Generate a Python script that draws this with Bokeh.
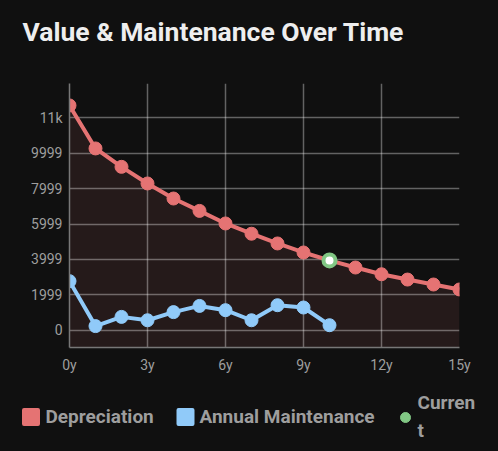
from bokeh.plotting import figure
from bokeh.layouts import column
from bokeh.models import Range1d, FixedTicker, Title
from bokeh.core.properties import value
from bokeh.embed import file_html
from bokeh.resources import INLINE

years = list(range(16))
depreciation = [12700, 10270, 9230, 8290, 7440, 6740, 6030, 5450, 4900, 4390,
                3940, 3540, 3160, 2860, 2580, 2300]
maint_years = list(range(11))
maintenance = [2770, 230, 750, 560, 1020, 1370, 1130, 560, 1410, 1280, 280]
current_year = [10]
current_value = [3940]

y_ticks = [0, 1999, 3999, 5999, 7999, 9999, 11999]
y_labels = ["0", "1999", "3999", "5999", "7999", "9999", "11k"]
x_ticks = [0, 3, 6, 9, 12, 15]
x_labels = ["0y", "3y", "6y", "9y", "12y", "15y"]
series_names = ["Depreciation", "Annual Maintenance", "Curren\nt"]

BG = "#101010"
RED = "#e57373"
BLUE = "#90caf9"
GREEN = "#81c784"
TXT = "#9e9e9e"
Y0, Y1 = -980, 13940
W = 498

# ---- main chart ----
p = figure(width=W, height=380, output_backend="svg", toolbar_location=None,
           x_range=Range1d(0, 15), y_range=Range1d(Y0, Y1),
           background_fill_color=BG, border_fill_color=BG,
           min_border_left=69, min_border_right=39, min_border_top=83,
           min_border_bottom=33)
p.outline_line_color = None
p.title = Title(text="Value & Maintenance Over Time", text_color="#eeeeee",
                text_font="Roboto", text_font_size="26.5px", text_font_style="bold",
                offset=-47, standoff=10)
# invisible spacer between title and plot area
p.add_layout(Title(text=" ", text_font_size="10px", standoff=19,
                   text_color=BG), "above")

p.varea(x=years, y1=[Y0] * len(years), y2=depreciation,
        fill_color=RED, fill_alpha=0.1, level="image")
p.line(years, depreciation, line_color=RED, line_width=4)
p.scatter(years, depreciation, size=13, fill_color=RED, line_color=RED)
p.line(maint_years, maintenance, line_color=BLUE, line_width=4)
p.scatter(maint_years, maintenance, size=13, fill_color=BLUE, line_color=BLUE)
p.scatter(current_year, current_value, size=12, fill_color="white",
          line_color=GREEN, line_width=4)

for g in (p.xgrid, p.ygrid):
    g.grid_line_color = "white"
    g.grid_line_alpha = 0.35
    g.grid_line_width = 1.5
p.xgrid.ticker = FixedTicker(ticks=x_ticks)
p.ygrid.ticker = FixedTicker(ticks=y_ticks)

p.xaxis.ticker = FixedTicker(ticks=x_ticks)
p.xaxis.major_label_overrides = dict(zip(x_ticks, x_labels))
p.yaxis.ticker = FixedTicker(ticks=y_ticks)
p.yaxis.major_label_overrides = dict(zip(y_ticks, y_labels))
for ax in (p.xaxis, p.yaxis):
    ax.axis_line_color = "#777777"
    ax.axis_line_width = 1.5
    ax.major_tick_line_color = None
    ax.minor_tick_line_color = None
    ax.major_tick_out = 0
    ax.major_tick_in = 0
    ax.major_label_text_color = TXT
    ax.major_label_text_font = "Roboto"
    ax.major_label_text_font_size = "14px"
p.xaxis.major_label_standoff = 9
p.yaxis.major_label_standoff = 7

# ---- legend strip ----
lg = figure(width=W, height=71, output_backend="svg", toolbar_location=None,
            x_range=Range1d(0, W), y_range=Range1d(71, 0),
            x_axis_location=None, y_axis_location=None,
            background_fill_color=BG, border_fill_color=BG,
            min_border_left=0, min_border_right=0, min_border_top=0,
            min_border_bottom=0)
lg.outline_line_color = None
lg.xgrid.visible = False
lg.ygrid.visible = False
lg.scatter(x=[30.5, 185], y=[36.5, 36.5], marker="square", size=14,
           fill_color=[RED, BLUE], line_color=[RED, BLUE], line_width=4,
           line_join="round")
lg.scatter(x=[405], y=[37], marker="circle", size=10,
           fill_color=GREEN, line_color=GREEN)
lg.text(x=[45, 199, 417], y=[36, 36, 36], text=series_names,
        text_color=TXT, text_font=value("Roboto"), text_font_size="19px",
        text_font_style="bold", text_baseline="middle", text_align="left",
        text_line_height=1.25)

html = file_html(column(p, column(lg), spacing=0), INLINE)
style = ("<style>html,body{margin:0 !important;padding:0 !important;"
         "background:#101010 !important;}</style>")
html = html.replace("</head>", style + "</head>", 1)
open("out.html", "w").write(html)
